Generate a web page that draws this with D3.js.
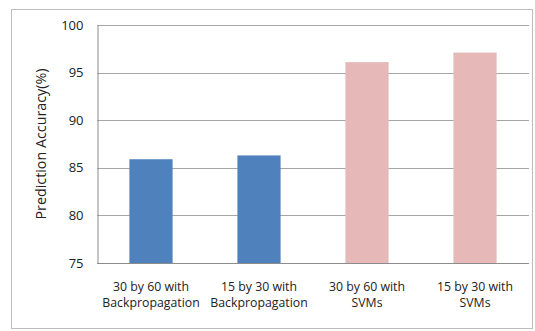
<!DOCTYPE html>
<html>
<head>
<meta charset="utf-8">
<script src="https://cdn.jsdelivr.net/npm/d3@7"></script>
<style>
  html, body { margin: 0; padding: 0; background: #fff; }
  svg { display: block; }
  text { font-family: "Open Sans", "Noto Sans", sans-serif; fill: #222; }
</style>
</head>
<body>
<svg id="chart" width="535" height="331"></svg>
<script>
// Prediction accuracy by grid size and method
const categories = [
  ["30 by 60 with", "Backpropagation"],
  ["15 by 30 with", "Backpropagation"],
  ["30 by 60 with", "SVMs"],
  ["15 by 30 with", "SVMs"]
];
const accuracy = [85.9, 86.3, 96.1, 97.1];
const barColors = ["#4F81BD", "#4F81BD", "#E6B9B8", "#E6B9B8"];
const yTicks = [75, 80, 85, 90, 95, 100];
const yTitle = "Prediction Accuracy(%)";

const FONT = '"Open Sans", "Noto Sans", sans-serif';
const svg = d3.select("#chart");
const plot = { left: 97, top: 25, right: 529, bottom: 263 };

// outer chart frame
svg.append("rect")
  .attr("x", 11.5).attr("y", 9.5)
  .attr("width", 521).attr("height", 319)
  .attr("fill", "#fff").attr("stroke", "#BDBDBD").attr("stroke-width", 1);

const x = d3.scaleBand()
  .domain(d3.range(categories.length))
  .range([plot.left, plot.right])
  .paddingInner(0.6).paddingOuter(0.3);

const y = d3.scaleLinear().domain([75, 100]).range([plot.bottom, plot.top]);

// horizontal gridlines
svg.append("g")
  .selectAll("line")
  .data(yTicks.filter(t => t > 75))
  .join("line")
  .attr("x1", plot.left).attr("x2", plot.right)
  .attr("y1", d => Math.round(y(d)) + 0.5).attr("y2", d => Math.round(y(d)) + 0.5)
  .attr("stroke", "#A6A6A6").attr("stroke-width", 1);

// bars
svg.append("g")
  .selectAll("rect")
  .data(accuracy)
  .join("rect")
  .attr("x", (d, i) => x(i))
  .attr("width", x.bandwidth())
  .attr("y", d => y(d))
  .attr("height", d => y(75) - y(d))
  .attr("fill", (d, i) => barColors[i]);

// y axis
const yAxis = d3.axisLeft(y).tickValues(yTicks).tickSize(0).tickPadding(14);
const gy = svg.append("g")
  .attr("transform", `translate(${plot.left + 0.5},0)`)
  .call(yAxis);
gy.select(".domain").attr("stroke", "#8C8C8C");
gy.selectAll("text").attr("font-size", 13).style("fill", "#222")
  .style("font-family", FONT);

// x axis baseline
svg.append("line")
  .attr("x1", plot.left).attr("x2", plot.right)
  .attr("y1", plot.bottom + 0.5).attr("y2", plot.bottom + 0.5)
  .attr("stroke", "#8C8C8C");

// category labels (two lines each)
const xl = svg.append("g")
  .selectAll("text")
  .data(categories)
  .join("text")
  .attr("text-anchor", "middle")
  .attr("font-size", 12.3)
  .attr("x", (d, i) => x(i) + x.bandwidth() / 2);
xl.each(function(d) {
  const t = d3.select(this);
  d.forEach((line, k) => {
    t.append("tspan")
      .attr("x", t.attr("x"))
      .attr("y", 291 + k * 15.5)
      .text(line);
  });
});

// y axis title
svg.append("text")
  .attr("transform", `translate(46,${(plot.top + plot.bottom) / 2}) rotate(-90)`)
  .attr("text-anchor", "middle")
  .attr("font-size", 14.3)
  .text(yTitle);
</script>
</body>
</html>
